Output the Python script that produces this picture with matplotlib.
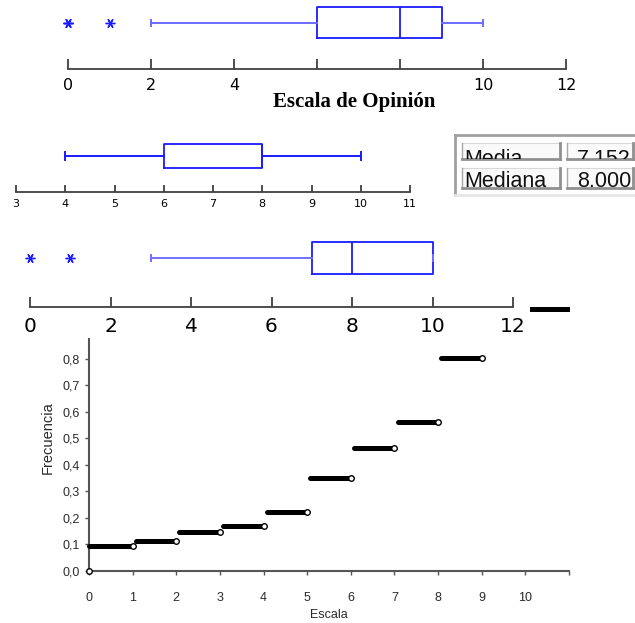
import numpy as np
import matplotlib
matplotlib.use('Agg')
import matplotlib.pyplot as plt
from matplotlib.patches import Rectangle

# --- data ---
# panel 1: opinion scale, 0-12
p1_stats = dict(whislo=2, q1=6, med=8, q3=9, whishi=10, fliers=[0, 0, 1])
p1_ticks = [0, 2, 4, 6, 8, 10, 12]
p1_labels = ['0', '2', '4', '', '', '10', '12']

# panel 2: 3-11 scale, no outliers
p2_stats = dict(whislo=4, q1=6, med=8, q3=8, whishi=10, fliers=[])
p2_ticks = [3, 4, 5, 6, 7, 8, 9, 10, 11]

# panel 3: 0-12 scale
p3_stats = dict(whislo=3, q1=7, med=8, q3=10, whishi=10, fliers=[0, 1])
p3_ticks = [0, 2, 4, 6, 8, 10, 12]

# summary table
tab_names = ['Media', 'Mediana']
tab_values = ['7.152', '8.000']

# panel 4: cumulative frequency steps on [i, i+1)
esc = np.arange(9)
frec_acum = [0.095, 0.115, 0.146, 0.170, 0.224, 0.350, 0.465, 0.563, 0.804]
frag_x = [10.15, 10.96]
frag_y = [0.99, 0.99]
p4_yticks = [0.0, 0.1, 0.2, 0.3, 0.4, 0.5, 0.6, 0.7, 0.8]
p4_xticks = list(range(12))

W, H = 635, 623
fig = plt.figure(figsize=(W / 100, H / 100), dpi=100)
fig.patch.set_facecolor('white')


def px_axes(x0, y0, x1, y1):
    return fig.add_axes([x0 / W, 1 - y1 / H, (x1 - x0) / W, (y1 - y0) / H])


BLUE = '#1a1aff'


def box_panel(ax, stats, pos, width, cap, wcolor, ticks, labels, fsize, tlen, pad, msize):
    parts = ax.bxp([stats], positions=[pos], widths=width, orientation='horizontal',
                   capwidths=cap,
                   boxprops=dict(color=BLUE, lw=1.3),
                   whiskerprops=dict(color=wcolor, lw=1.4),
                   capprops=dict(color=wcolor, lw=1.4),
                   medianprops=dict(color=BLUE, lw=1.3),
                   flierprops=dict(marker=(6, 2, 90), markeredgecolor=BLUE,
                                   markersize=msize, markeredgewidth=1.0))
    for group in parts.values():
        for art in group:
            art.set_clip_on(False)
    ax.set_ylim(0, 1)
    ax.set_yticks([])
    for s in ['top', 'left', 'right']:
        ax.spines[s].set_visible(False)
    ax.spines['bottom'].set_color('#404040')
    ax.spines['bottom'].set_linewidth(1.3)
    ax.set_xticks(ticks)
    ax.set_xticklabels(labels, fontsize=fsize, family='DejaVu Sans')
    ax.tick_params(axis='x', direction='in', length=tlen, width=1.3,
                   color='#404040', pad=pad)
    ax.patch.set_alpha(0)


# panel 1
ax1 = px_axes(68, 0, 566, 69)
ax1.set_xlim(0, 12)
box_panel(ax1, p1_stats, 0.667, 0.449, 0.1, '#6a6aff', p1_ticks, p1_labels,
          11.5, 7, 6.5, 7)
ax1.text(0.575, -0.48, 'Escala de Opinión', transform=ax1.transAxes,
         ha='center', va='center', fontsize=15, fontweight='bold',
         family='Liberation Serif')

# panel 2
ax2 = px_axes(16, 130, 410, 192)
ax2.set_xlim(3, 11)
box_panel(ax2, p2_stats, 0.58, 0.387, 0.12, BLUE, p2_ticks,
          [str(t) for t in p2_ticks], 8, 5, 5, 6)

# panel 3
ax3 = px_axes(30, 225, 513, 307)
ax3.set_xlim(0, 12)
box_panel(ax3, p3_stats, 0.598, 0.39, 0.08, '#7070ff', p3_ticks,
          [str(t) for t in p3_ticks], 14.5, 7, 7, 7)

# panel 4: cumulative frequency
ax4 = px_axes(89, 339, 569, 571)
ax4.set_xlim(0, 10.96)
ax4.set_ylim(0, 0.875)
starts = esc + 0.07
starts[0] = 0
lc = ax4.hlines(frec_acum, starts, esc + 1, colors='black', lw=3.6, zorder=3)
lc.set_capstyle('round')
lc.set_clip_on(False)
ax4.plot(np.r_[0, esc + 1], np.r_[0, frec_acum], 'o', mfc='white', mec='black',
         ms=4, mew=1, zorder=4, clip_on=False)
ax4.plot(frag_x, frag_y, color='black', lw=3.6, clip_on=False)
for s in ['top', 'right']:
    ax4.spines[s].set_visible(False)
for s in ['left', 'bottom']:
    ax4.spines[s].set_color('#555555')
    ax4.spines[s].set_linewidth(1.5)
ax4.set_yticks(p4_yticks)
ax4.set_yticklabels([f'{v:.1f}'.replace('.', ',') for v in p4_yticks],
                    fontsize=9, color='#2a2a2a', family='Liberation Sans')
ax4.set_xticks(p4_xticks)
ax4.set_xticklabels([str(t) for t in p4_xticks[:-1]] + [''],
                    fontsize=9, color='#2a2a2a', family='Liberation Sans')
ax4.tick_params(length=3, width=1, color='#555555')
ax4.tick_params(axis='y', pad=3.5)
ax4.tick_params(axis='x', pad=12)
ax4.set_ylabel('Frecuencia', fontsize=10.5, color='#2a2a2a', family='Liberation Sans')
ax4.yaxis.set_label_coords(-0.072, 0.573)
ax4.set_xlabel('Escala', fontsize=9, color='#2a2a2a', family='Liberation Sans')
ax4.xaxis.set_label_coords(0.50, -0.165)

# table overlay in pixel coordinates
ov = fig.add_axes([0, 0, 1, 1])
ov.set_xlim(0, W)
ov.set_ylim(H, 0)
ov.axis('off')
ov.patch.set_alpha(0)
ov.plot([455, 635], [135, 135], color='#a0a0a0', lw=2)
ov.plot([455, 455], [135, 195], color='#a0a0a0', lw=2)
ov.plot([455, 635], [195, 195], color='#e6e6e6', lw=2)
rows = [(143, 159), (168, 188)]
cols = [(462, 560), (567, 633)]
for i, (top, bot) in enumerate(rows):
    for j, (left, right) in enumerate(cols):
        r = Rectangle((left, top), right - left, bot - top, facecolor='#fafafa',
                      edgecolor='none')
        ov.add_patch(r)
        ov.plot([left, right], [top, top], color='#d8d8d8', lw=0.8)
        ov.plot([left, left], [top, bot], color='#a8a8a8', lw=1)
        ov.plot([left, right], [bot, bot], color='#909090', lw=2)
        ov.plot([right, right], [top, bot], color='#909090', lw=2)
        txt = tab_names[i] if j == 0 else tab_values[i]
        base = 165 if i == 0 else 187
        t = ov.text(left + 2 if j == 0 else right - 2, base, txt,
                    ha='left' if j == 0 else 'right', va='baseline',
                    fontsize=15.5, family='Liberation Sans', color='#111111')
        t.set_clip_on(True)
        t.set_clip_path(r)

fig.savefig('out.png', dpi=100)
